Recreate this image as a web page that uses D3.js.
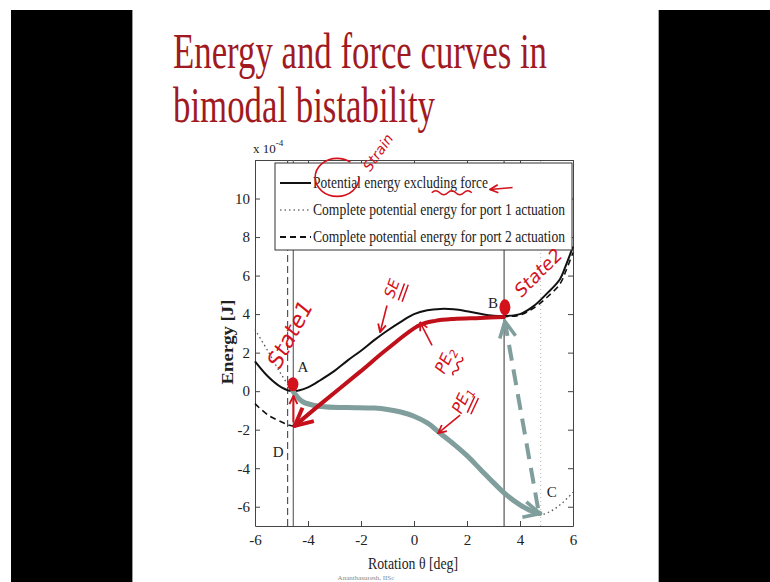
<!DOCTYPE html>
<html lang="en">
<head>
<meta charset="UTF-8">
<title>Energy and force curves in bimodal bistability</title>
<script src="https://d3js.org/d3.v7.min.js"></script>
<style>
  body { margin: 0; background: #fff; }
  svg { display: block; }
  .axis text { font-family: "Liberation Serif", serif; font-size: 15px; fill: #222; }
  .axis path, .axis line { stroke: #444; }
  .serif { font-family: "Liberation Serif", serif; fill: #222; }
  .ink { font-family: "DejaVu Sans", sans-serif; font-style: italic; fill: #d3121c; }
</style>
</head>
<body>
<svg width="770" height="582"></svg>
<script>
// curve 1: potential energy excluding force (strain energy), x 10^-4 J
const thetaSE  = [-6, -5.5, -5, -4.57, -4, -3.5, -3, -2.5, -2, -1.5, -1, -0.5, 0, 0.5, 1, 1.5, 2, 2.5, 3, 3.4, 4, 4.5, 5, 5.5, 5.75, 6];
const energySE = [1.55, 0.75, 0.2, 0, 0.2, 0.6, 1.05, 1.6, 2.1, 2.65, 3.15, 3.6, 4.0, 4.2, 4.27, 4.25, 4.15, 4.02, 3.92, 3.9, 4.0, 4.4, 5.05, 5.8, 6.6, 7.5];

// curve 2: complete potential energy, port 1 actuation (dotted)
const thetaP1  = [-6, -5.5, -5, -4.57, -4.2, -3.5, -2.5, -1.5, -1, -0.5, 0, 0.5, 1, 1.5, 2, 2.5, 3, 3.5, 4, 4.4, 4.8, 5.2, 5.6, 6];
const energyP1 = [3.2, 2.05, 0.85, 0.0, -0.55, -0.8, -0.85, -0.88, -0.95, -1.08, -1.3, -1.65, -2.2, -2.75, -3.35, -4.05, -4.75, -5.4, -5.9, -6.2, -6.4, -6.2, -5.8, -5.25];

// curve 3: complete potential energy, port 2 actuation (dashed)
const thetaP2  = [-6, -5.5, -5, -4.75, -4.5, -4, -3.55, -3, -2.04, -1, 0.2, 0.8, 1.5, 2.5, 3.4, 4, 4.5, 5, 5.5, 5.75, 6];
const energyP2 = [-0.65, -1.25, -1.6, -1.75, -1.8, -1.22, -0.7, -0.08, 1.0, 2.2, 3.42, 3.65, 3.75, 3.8, 3.87, 3.95, 4.3, 4.85, 5.55, 6.3, 7.2];

// hand-drawn paths: PE1 (A -> C), PE2 (B -> D), C -> B, D -> A
const thetaPE1  = [-4.57, -4.2, -3.5, -2.5, -1.5, -1, -0.5, 0, 0.5, 1, 1.5, 2, 2.5, 3, 3.5, 4, 4.4, 4.75];
const energyPE1 = [0, -0.55, -0.8, -0.85, -0.88, -0.95, -1.08, -1.3, -1.65, -2.2, -2.75, -3.35, -4.05, -4.75, -5.4, -5.9, -6.2, -6.35];
const thetaPE2  = [3.4, 2.5, 1.5, 0.8, 0.2, -1, -2.04, -3.55, -4.5];
const energyPE2 = [3.85, 3.8, 3.75, 3.65, 3.42, 2.2, 1.0, -0.7, -1.8];
const thetaCB   = [4.68, 3.43];
const energyCB  = [-6.08, 3.62];
const thetaDA   = [-4.55, -4.55];
const energyDA  = [-1.6, -0.25];

// vertical reference lines (theta), points and labels
const markerTheta = [-4.77, -4.555, 3.4, 4.78];
const pointLabels = ["A", "B", "C", "D"];
const labelTheta  = [-4.19, 2.98, 5.2, -5.13];
const labelEnergy = [1.24, 4.6, -5.24, -3.17];
const stateTheta  = [-4.57, 3.43];
const stateEnergy = [0.36, 4.35];

const xTicks = [-6, -4, -2, 0, 2, 4, 6];
const yTicks = [-6, -4, -2, 0, 2, 4, 6, 8, 10];
const legendLabels = ["Potential energy excluding force",
  "Complete potential energy for port 1 actuation",
  "Complete potential energy for port 2 actuation"];

const svg = d3.select("svg");

// slide frame
svg.append("rect").attr("x", 11).attr("y", 10).attr("width", 121).attr("height", 572).attr("fill", "#000");
svg.append("rect").attr("x", 659).attr("y", 10).attr("width", 111).attr("height", 572).attr("fill", "#000");
svg.append("line").attr("x1", 132.5).attr("x2", 132.5).attr("y1", 10).attr("y2", 582).attr("stroke", "#999");
svg.append("line").attr("x1", 658.5).attr("x2", 658.5).attr("y1", 10).attr("y2", 582).attr("stroke", "#aaa");

// title
const titleCol = "#a01a1f";
svg.append("text").attr("class", "serif").attr("x", 173).attr("y", 68)
  .attr("font-size", 50).style("fill", titleCol)
  .attr("textLength", 374).attr("lengthAdjust", "spacingAndGlyphs")
  .text("Energy and force curves in");
svg.append("text").attr("class", "serif").attr("x", 173).attr("y", 122)
  .attr("font-size", 50).style("fill", titleCol)
  .attr("textLength", 262).attr("lengthAdjust", "spacingAndGlyphs")
  .text("bimodal bistability");

const x = d3.scaleLinear().domain([-6, 6]).range([255, 573]);
const y = d3.scaleLinear().domain([-7, 12]).range([526, 160]);

const defs = svg.append("defs");
function chevron(id, color, size) {
  defs.append("marker").attr("id", id)
    .attr("viewBox", "0 0 10 10").attr("refX", 9).attr("refY", 5)
    .attr("markerWidth", size).attr("markerHeight", size)
    .attr("markerUnits", "userSpaceOnUse").attr("orient", "auto")
    .append("path").attr("d", "M1,1 L9,5 L1,9")
    .attr("fill", "none").attr("stroke", color).attr("stroke-width", 1.8);
}
chevron("grayHead", "#7f9e9c", 20);
chevron("redHead", "#c8101a", 22);
chevron("redSmall", "#d3121c", 10);

// axes (MATLAB box, inward ticks)
const fmt = d => String(d);
svg.append("g").attr("class", "axis").attr("transform", "translate(0,526)")
  .call(d3.axisBottom(x).tickValues(xTicks).tickFormat(fmt).tickSizeInner(-5).tickSizeOuter(0).tickPadding(8));
svg.append("g").attr("class", "axis").attr("transform", "translate(0,160)")
  .call(d3.axisTop(x).tickValues(xTicks).tickFormat("").tickSizeInner(-5).tickSizeOuter(0));
svg.append("g").attr("class", "axis").attr("transform", "translate(255,0)")
  .call(d3.axisLeft(y).tickValues(yTicks).tickFormat(fmt).tickSizeInner(-5).tickSizeOuter(0).tickPadding(5));
svg.append("g").attr("class", "axis").attr("transform", "translate(573,0)")
  .call(d3.axisRight(y).tickValues(yTicks).tickFormat("").tickSizeInner(-5).tickSizeOuter(0));

// vertical reference lines
const vStyle = [
  {stroke: "#555", dash: "7,4", w: 1.2},
  {stroke: "#666", dash: null, w: 1.2},
  {stroke: "#555", dash: null, w: 1.2},
  {stroke: "#bbb", dash: "1,3", w: 1}
];
svg.append("g").selectAll("line").data(markerTheta).join("line")
  .attr("x1", d => x(d)).attr("x2", d => x(d))
  .attr("y1", y(-7)).attr("y2", y(12))
  .attr("stroke", (d, i) => vStyle[i].stroke)
  .attr("stroke-width", (d, i) => vStyle[i].w)
  .attr("stroke-dasharray", (d, i) => vStyle[i].dash);

const pts = (t, e) => t.map((d, i) => [d, e[i]]);
const line = d3.line().x(d => x(d[0])).y(d => y(d[1])).curve(d3.curveCatmullRom);

// energy curves
svg.append("path").datum(pts(thetaP1, energyP1)).attr("d", line)
  .attr("fill", "none").attr("stroke", "#555").attr("stroke-width", 1.3).attr("stroke-dasharray", "1.5,3");
svg.append("path").datum(pts(thetaP2, energyP2)).attr("d", line)
  .attr("fill", "none").attr("stroke", "#111").attr("stroke-width", 1.6).attr("stroke-dasharray", "6,4");
svg.append("path").datum(pts(thetaSE, energySE)).attr("d", line)
  .attr("fill", "none").attr("stroke", "#111").attr("stroke-width", 2);

// hand-drawn transition paths
svg.append("path").datum(pts(thetaPE1, energyPE1)).attr("d", line)
  .attr("fill", "none").attr("stroke", "#7f9e9c").attr("stroke-width", 5)
  .attr("stroke-linecap", "round").attr("marker-end", "url(#grayHead)");
svg.append("path").datum(pts(thetaCB, energyCB)).attr("d", line)
  .attr("fill", "none").attr("stroke", "#7f9e9c").attr("stroke-width", 4)
  .attr("stroke-dasharray", "16,9").attr("marker-end", "url(#grayHead)");
svg.append("path").datum(pts(thetaPE2, energyPE2)).attr("d", line)
  .attr("fill", "none").attr("stroke", "#c0101a").attr("stroke-width", 4)
  .attr("stroke-linecap", "round").attr("marker-end", "url(#redHead)");
svg.append("path").datum(pts(thetaDA, energyDA)).attr("d", line)
  .attr("fill", "none").attr("stroke", "#d3121c").attr("stroke-width", 2)
  .attr("marker-end", "url(#redSmall)");

// state dots
svg.append("g").selectAll("ellipse").data(stateTheta).join("ellipse")
  .attr("cx", d => x(d)).attr("cy", (d, i) => y(stateEnergy[i]))
  .attr("rx", 5.5).attr("ry", (d, i) => i ? 8 : 7).attr("fill", "#d3121c");

// point labels
svg.append("g").selectAll("text").data(pointLabels).join("text")
  .attr("class", "serif").attr("font-size", 15)
  .attr("x", (d, i) => x(labelTheta[i])).attr("y", (d, i) => y(labelEnergy[i]))
  .attr("text-anchor", "middle").attr("dominant-baseline", "central")
  .text(d => d);

// legend
const lg = svg.append("g");
lg.append("rect").attr("x", 275).attr("y", 163).attr("width", 297).attr("height", 87)
  .attr("fill", "#fff").attr("stroke", "#333");
const lgDash = [null, "1.5,3", "6,4"];
const lgCol = ["#111", "#777", "#111"];
const lgW = [2, 1.3, 1.8];
const lgTextW = [175, 252, 252];
legendLabels.forEach((t, i) => {
  const ly = 183 + i * 27;
  lg.append("line").attr("x1", 280).attr("x2", 311).attr("y1", ly).attr("y2", ly)
    .attr("stroke", lgCol[i]).attr("stroke-width", lgW[i]).attr("stroke-dasharray", lgDash[i]);
  lg.append("text").attr("class", "serif").attr("x", 313).attr("y", ly + 5)
    .attr("font-size", 16).attr("textLength", lgTextW[i]).attr("lengthAdjust", "spacingAndGlyphs")
    .text(t);
});

// axis labels
svg.append("text").attr("class", "serif").attr("x", 413).attr("y", 569)
  .attr("text-anchor", "middle").attr("font-size", 17)
  .attr("textLength", 90).attr("lengthAdjust", "spacingAndGlyphs")
  .text("Rotation \u03b8 [deg]");
svg.append("text").attr("class", "serif")
  .attr("transform", "translate(233,342) rotate(-90)")
  .attr("text-anchor", "middle").attr("font-size", 16).attr("font-weight", "bold")
  .attr("textLength", 85).attr("lengthAdjust", "spacingAndGlyphs")
  .text("Energy [J]");
const mult = svg.append("text").attr("class", "serif").attr("x", 253).attr("y", 153).attr("font-size", 13);
mult.append("tspan").text("x 10");
mult.append("tspan").attr("font-size", 9).attr("dy", -7).text("-4");

svg.append("text").attr("class", "serif").attr("x", 366).attr("y", 580)
  .attr("text-anchor", "middle").attr("font-size", 7).style("fill", "#888")
  .text("Ananthasuresh, IISc");

// red ink notes
const inkText  = ["State1", "State2", "SE", "PE", "PE", "Strain"];
const inkSub   = ["", "", "", "2", "1", ""];
const inkTheta = [-4.68, 4.68, -0.83, 1.17, 1.81, -1.36];
const inkEnergy = [2.95, 6.16, 5.33, 1.6, -0.47, 12.4];
const inkAngle = [-62, -45, -70, -65, -65, -55];
const inkSize = [22, 18, 15, 16, 16, 14];
const inkMark = [null, null, "double", "wave", "double", null];
inkText.forEach((t, i) => {
  const g = svg.append("g")
    .attr("transform", `translate(${x(inkTheta[i])},${y(inkEnergy[i])}) rotate(${inkAngle[i]})`);
  const tx = g.append("text").attr("class", "ink").attr("text-anchor", "middle")
    .attr("dominant-baseline", "central").attr("font-size", inkSize[i]).text(t);
  if (inkSub[i]) tx.append("tspan").attr("font-size", inkSize[i] * 0.7).attr("dy", 5).text(inkSub[i]);
  if (inkMark[i] === "double") {
    [10, 14].forEach(o => g.append("line").attr("x1", -9).attr("x2", 9).attr("y1", o).attr("y2", o)
      .attr("stroke", "#d3121c").attr("stroke-width", 1.5));
  } else if (inkMark[i] === "wave") {
    g.append("path").attr("d", "M-10,14 q2.5,-4 5,0 t5,0 t5,0 t5,0")
      .attr("fill", "none").attr("stroke", "#d3121c").attr("stroke-width", 1.5);
  }
});

// red pointer arrows
const arrowFrom = [[-1.02, 4.45], [0.68, 2.38], [1.74, -1.25], [3.72, 10.57]];
const arrowTo   = [[-1.28, 3.06], [0.23, 3.57], [0.91, -2.18], [2.87, 10.47]];
svg.append("g").selectAll("line").data(arrowFrom).join("line")
  .attr("x1", d => x(d[0])).attr("y1", d => y(d[1]))
  .attr("x2", (d, i) => x(arrowTo[i][0])).attr("y2", (d, i) => y(arrowTo[i][1]))
  .attr("stroke", "#d3121c").attr("stroke-width", 1.6).attr("marker-end", "url(#redSmall)");

// circle around "P" and wavy underline under "excluding"
svg.append("ellipse").attr("cx", x(-2.9)).attr("cy", y(11.1)).attr("rx", 22).attr("ry", 19)
  .attr("fill", "none").attr("stroke", "#d3121c").attr("stroke-width", 1.6)
  .attr("stroke-dasharray", "110,25");
svg.append("path")
  .attr("d", `M${x(0.67)},${y(10.3)} q4,-4 8,0 t8,0 t8,0 t8,0 t8,0`)
  .attr("fill", "none").attr("stroke", "#d3121c").attr("stroke-width", 1.5);
</script>
</body>
</html>
